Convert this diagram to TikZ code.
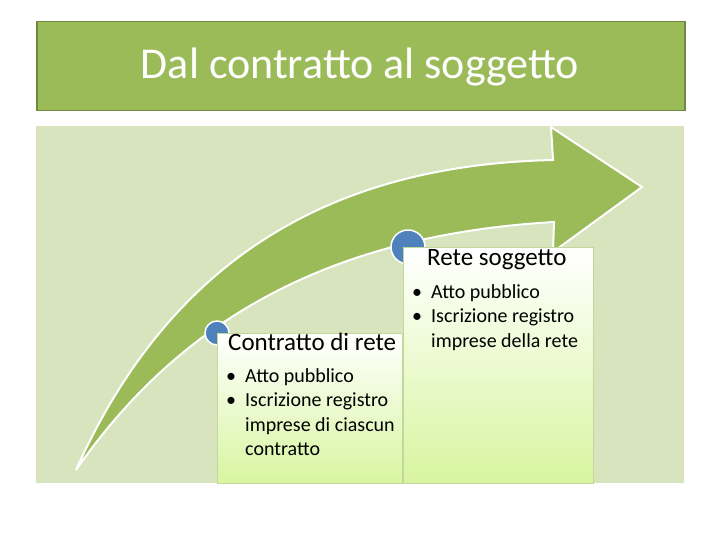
\documentclass[tikz,border=0pt]{standalone}
\usepackage{fontspec}
\setmainfont{Carlito}
\begin{document}
\begin{tikzpicture}[x=1pt,y=-1pt,
  dot/.style={circle, fill=blue1, draw=white, line width=1.5pt, inner sep=0pt},
  tbox/.style={draw=boxline, top color=white, bottom color=boxbot, anchor=north west, inner sep=0pt},
  ttl/.style={font=\fontsize{25}{30}\selectfont, anchor=north west, inner sep=0pt},
  btxt/.style={font=\fontsize{20}{24.5}\selectfont, anchor=north west, inner sep=0pt, align=left}]
\definecolor{tgreen}{RGB}{155,187,89}
\definecolor{tdark}{RGB}{113,137,63}
\definecolor{pale}{RGB}{215,228,189}
\definecolor{blue1}{RGB}{79,129,189}
\definecolor{boxline}{RGB}{195,214,155}
\definecolor{boxbot}{RGB}{215,245,160}
\useasboundingbox (0,0) rectangle (720,540);
\fill[white] (0,0) rectangle (720,540);
\node[draw=tdark, fill=tgreen, line width=1.5pt, minimum width=648, minimum height=89, anchor=north west] (title) at (36,21) {};
\node[text=white, font=\fontsize{44}{50}\selectfont] (tt) at (360,67) {Dal contratto al soggetto};
\node[fill=pale, minimum width=648, minimum height=357, anchor=north west, inner sep=0pt] (bg) at (36,126) {};
\fill[tgreen, draw=white, line width=2pt] (76,470) .. controls (170,260) and (330,165) .. (553,160)
  -- (551,127) -- (642,187) -- (553,252) -- (554,222)
  .. controls (330,235) and (180,320) .. cycle;
\node[dot, minimum size=24] (c1) at (217,333) {};
\node[dot, minimum size=34] (c2) at (408,247) {};
\node[tbox, minimum width=185, minimum height=150] (b1) at (217,333) {};
\node[tbox, minimum width=190, minimum height=236] (b2) at (403,247) {};
\node[ttl] (t1) at (228,333) {Contratto di rete};
\node[btxt] (l1) at (226,368) {\textbullet\ \ Atto pubblico\\\textbullet\ \ Iscrizione registro\\\hphantom{\textbullet\ \ }imprese di ciascun\\\hphantom{\textbullet\ \ }contratto};
\node[btxt] (l2) at (412,284) {\textbullet\ \ Atto pubblico\\\textbullet\ \ Iscrizione registro\\\hphantom{\textbullet\ \ }imprese della rete};
\node[ttl] (t2) at (427,249) {Rete soggetto};
\end{tikzpicture}
\end{document}
